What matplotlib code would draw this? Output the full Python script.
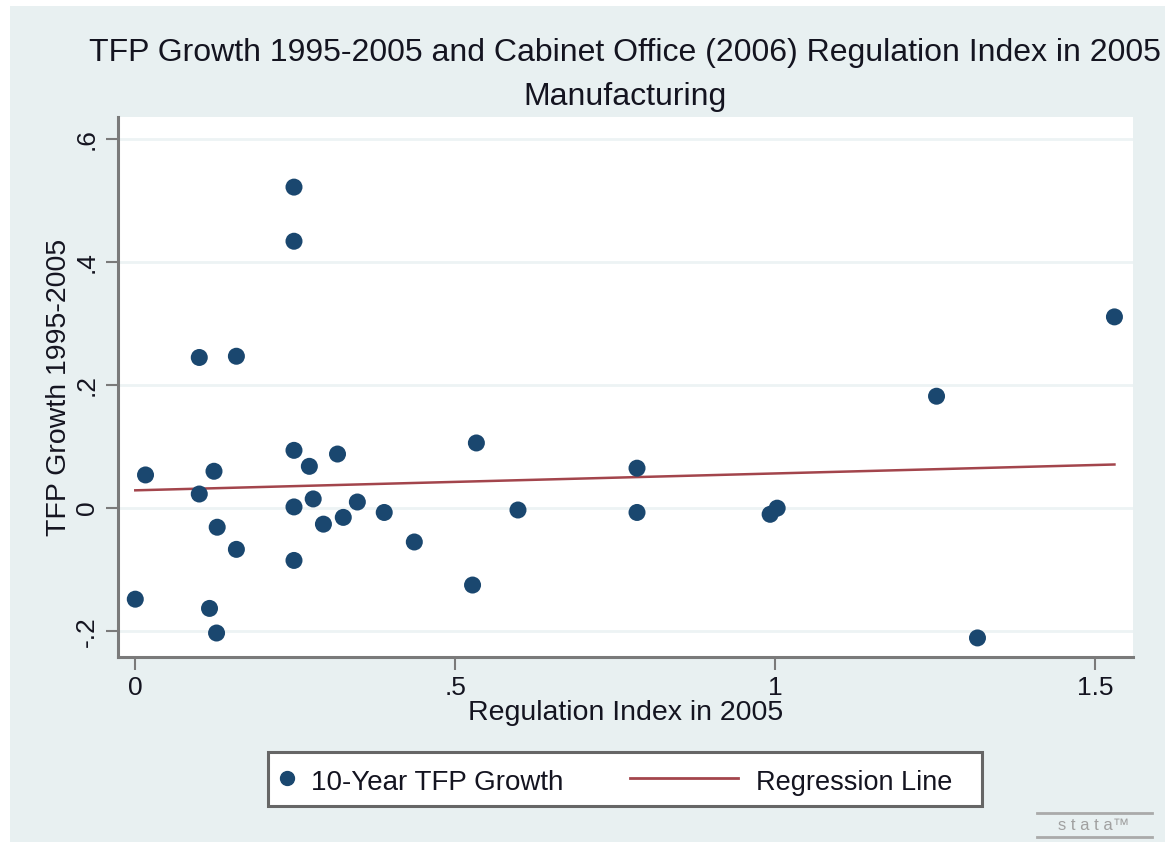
import matplotlib.pyplot as plt
from matplotlib.patches import Rectangle
from matplotlib.lines import Line2D

# regulation index (x) and 10-year TFP growth (y)
reg_index = [0.0, 0.016, 0.10, 0.158, 0.10, 0.123, 0.128, 0.158, 0.116, 0.127,
             0.248, 0.248, 0.248, 0.248, 0.248, 0.272, 0.278, 0.294, 0.316, 0.325,
             0.347, 0.389, 0.436, 0.527, 0.533, 0.598, 0.784, 0.784, 0.992, 1.003,
             1.252, 1.316, 1.530]
tfp_growth = [-0.148, 0.054, 0.245, 0.247, 0.023, 0.060, -0.031, -0.067, -0.163, -0.203,
              0.522, 0.434, 0.094, 0.002, -0.085, 0.068, 0.015, -0.026, 0.088, -0.015,
              0.010, -0.007, -0.055, -0.125, 0.106, -0.003, 0.065, -0.007, -0.010, 0.0,
              0.182, -0.211, 0.311]

# fitted line end points
fit_x = [0.0, 1.53]
fit_y = [0.029, 0.071]

xticks = [0, 0.5, 1, 1.5]
xticklabels = ['0', '.5', '1', '1.5']
yticks = [-0.2, 0, 0.2, 0.4, 0.6]
yticklabels = ['-.2', '0', '.2', '.4', '.6']
legend_labels = ['10-Year TFP Growth', 'Regression Line']

navy = '#1a476f'
maroon = '#a3454c'
bg = '#e8f0f1'
axgray = '#7a7a7a'
txt = '#141420'

plt.rcParams['font.family'] = ['Liberation Sans', 'DejaVu Sans']

W, H = 1165, 842
def fx(px):
    return px / W
def fy(py):
    return 1 - py / H

fig = plt.figure(figsize=(11.65, 8.42), dpi=100, facecolor='white')
fig.patches.append(Rectangle((fx(10), 0), 1, fy(6), transform=fig.transFigure,
                             facecolor=bg, edgecolor='none', zorder=-10))

ax = fig.add_axes([fx(118), fy(657), (1133 - 118) / W, (657 - 117) / H])
ax.set_facecolor('white')

for y in yticks:
    ax.axhline(y, color='#edf3f4', lw=2, zorder=0)

ax.plot(fit_x, fit_y, color=maroon, lw=1.8, zorder=2)
ax.scatter(reg_index, tfp_growth, s=150, color=navy, edgecolors='none', zorder=3)

ax.set_xlim(-0.027, 1.559)
ax.set_ylim(-0.242, 0.636)

ax.set_xticks(xticks)
ax.set_xticklabels(xticklabels, fontsize=19, color=txt)
ax.set_yticks(yticks)
ax.set_yticklabels(yticklabels, fontsize=19, rotation=90, va='center', color=txt)
ax.tick_params(direction='out', length=9, width=1.5, color=axgray, pad=5)

for side in ['top', 'right']:
    ax.spines[side].set_visible(False)
for side in ['left', 'bottom']:
    ax.spines[side].set_color(axgray)
    ax.spines[side].set_linewidth(2.2)

ax.set_xlabel('Regulation Index in 2005', fontsize=20.5, labelpad=0, color=txt)
ax.set_ylabel('TFP Growth 1995-2005', fontsize=20.5, labelpad=2, color=txt)

fig.text(fx(625), fy(53), 'TFP Growth 1995-2005 and Cabinet Office (2006) Regulation Index in 2005',
         ha='center', va='center', fontsize=23, color=txt)
fig.text(fx(625), fy(97), 'Manufacturing', ha='center', va='center',
         fontsize=23, color=txt)

# legend drawn by hand to match the Stata layout
fig.patches.append(Rectangle((fx(268), fy(806)), (982 - 268) / W, (806 - 752) / H,
                             transform=fig.transFigure, facecolor='white',
                             edgecolor='#666666', lw=2.2, zorder=5))
fig.add_artist(Line2D([fx(287)], [fy(778)], marker='o', ls='none', color=navy,
                      markersize=10, zorder=6))
fig.text(fx(311), fy(783), legend_labels[0], ha='left', va='center', fontsize=20,
         color=txt, zorder=6)
fig.add_artist(Line2D([fx(630), fx(738)], [fy(778)] * 2, color=maroon, lw=2, zorder=6))
fig.text(fx(756), fy(783), legend_labels[1], ha='left', va='center', fontsize=19.5,
         color=txt, zorder=6)

# stata logo
fig.add_artist(Line2D([fx(1037), fx(1152)], [fy(813)] * 2, color='#aaaaaa', lw=2))
fig.add_artist(Line2D([fx(1037), fx(1152)], [fy(837)] * 2, color='#aaaaaa', lw=2))
fig.text(fx(1094), fy(825), 's t a t a\u2122', ha='center', va='center',
         fontsize=12, color='#a0a0a0')

fig.savefig('out.png', dpi=100, facecolor=fig.get_facecolor())
